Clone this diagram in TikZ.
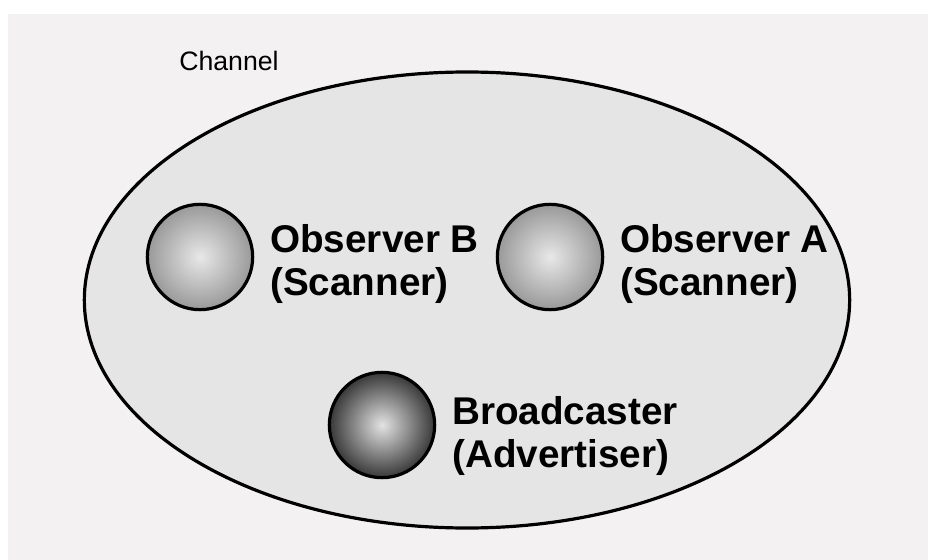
\documentclass[tikz,border=0pt]{standalone}
\usepackage{fontspec}
\setmainfont{Liberation Sans}
\usepackage{tikz}
\usetikzlibrary{positioning,shapes.geometric}

\definecolor{pagebg}{HTML}{F3F1F2}
\definecolor{chanfill}{HTML}{E6E5E5}

\begin{document}
\begin{tikzpicture}[
  x=0.75pt, y=-0.75pt,
  chan/.style={draw, ellipse, line width=2.4pt, fill=chanfill,
               minimum width=574pt, minimum height=342pt, inner sep=0pt},
  scanner/.style={draw, circle, line width=2.4pt, minimum size=79pt, inner sep=0pt,
                  inner color=gray!18, outer color=gray!80},
  caster/.style={scanner, inner color=gray!22, outer color=black!78},
  lbl/.style={font=\fontsize{29}{32}\selectfont\bfseries, align=left,
              inner sep=0pt, anchor=base west},
  title/.style={font=\fontsize{20}{22}\selectfont, inner sep=0pt, anchor=base west}
]
\useasboundingbox (0,0) rectangle (928,560);
\fill[white] (0,0) rectangle (928,560);
\fill[pagebg] (8,14) rectangle (928,560);

\node[title] (chtitle) at (179,70) {Channel};
\node[chan] (channel) at (467,300) {};

\node[scanner] (obsB) at (200,257) {};
\node[scanner] (obsA) at (550,257) {};
\node[caster] (bcast) at (382,425) {};

% last baseline is the anchor
\node[lbl] (obsBtxt) at (270,295) {Observer B\\(Scanner)};
\node[lbl] (obsAtxt) at (620,295) {Observer A\\(Scanner)};
\node[lbl] (bcasttxt) at (452,467) {Broadcaster\\(Advertiser)};
\end{tikzpicture}
\end{document}
